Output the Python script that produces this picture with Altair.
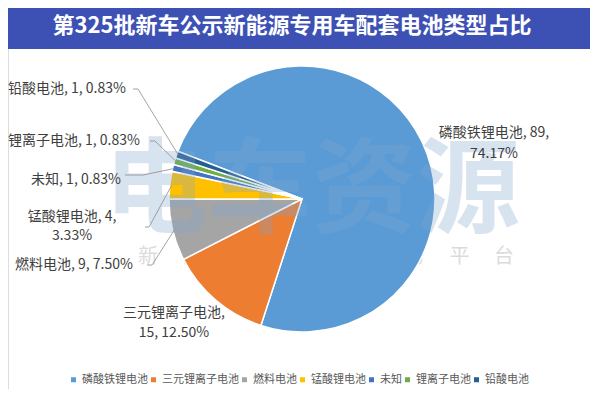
import math
import altair as alt
import pandas as pd

# ---- data ----
categories = ["磷酸铁锂电池", "三元锂离子电池", "燃料电池", "锰酸锂电池", "未知", "锂离子电池", "铅酸电池"]
counts = [89, 15, 9, 4, 1, 1, 1]
percents = ["74.17%", "12.50%", "7.50%", "3.33%", "0.83%", "0.83%", "0.83%"]
colors = ["#5B9BD5", "#ED7D31", "#A5A5A5", "#FFC000", "#4472C4", "#70AD47", "#255E91"]
title_text = "第325批新车公示新能源专用车配套电池类型占比"

# ---- layout (chart pixel coords) ----
W, H = 582, 381
CX, CY, R = 294, 191, 133
START = math.radians(-69)
FONT = "Noto Sans CJK SC"

pie_df = pd.DataFrame({"cat": categories, "n": counts, "idx": list(range(len(categories)))})

# label layout: (text, x, y, align)
label_rows = [
    ("磷酸铁锂电池, 89,", 486, 125, "center"),
    ("74.17%", 486, 146, "center"),
    ("三元锂离子电池,", 166, 305, "center"),
    ("15, 12.50%", 166, 325, "center"),
    ("燃料电池, 9, 7.50%", 7, 257, "left"),
    ("锰酸锂电池, 4,", 64, 209, "center"),
    ("3.33%", 64, 228, "center"),
    ("未知, 1, 0.83%", 113, 172, "right"),
    ("锂离子电池, 1, 0.83%", 0, 133, "left"),
    ("铅酸电池, 1, 0.83%", 0, 81, "left"),
]
lab_df = pd.DataFrame(label_rows, columns=["t", "x", "y", "a"])

# leader lines: start points near labels, end at slice middle on the rim
leader_starts = {
    "燃料电池": [(139, 257), (144, 257)],
    "锰酸锂电池": [(137, 219), (141, 219)],
    "未知": [(117, 167), (135, 167)],
    "锂离子电池": [(142, 133), (147, 133)],
    "铅酸电池": [(125, 81), (130, 81)],
}
total = sum(counts)
cum = 0
mids = {}
for c, v in zip(categories, counts):
    mids[c] = START + 2 * math.pi * (cum + v / 2) / total
    cum += v
rows = []
for c, pts in leader_starts.items():
    a = mids[c]
    ex, ey = CX + (R - 2) * math.sin(a), CY - (R - 2) * math.cos(a)
    allp = pts + [(ex, ey)]
    for k, (px, py) in enumerate(allp):
        rows.append({"id": c, "k": k, "x": px, "y": py})
lead_df = pd.DataFrame(rows)

base_px = dict(scale=None, axis=None)

bar = alt.Chart(pd.DataFrame({"a": [0]})).mark_rect(color="#3D50B4").encode(
    x=alt.value(0), x2=alt.value(W), y=alt.value(0), y2=alt.value(41)
)
title = alt.Chart(pd.DataFrame({"t": [title_text]})).mark_text(
    font=FONT, fontSize=22, fontWeight="bold", color="white", align="center", baseline="middle"
).encode(text="t:N", x=alt.value(284), y=alt.value(18))

wm_sub = alt.Chart(pd.DataFrame({"t": ["\u3000 ".join("新能源汽车服务平台")]})).mark_text(
    font=FONT, fontSize=20, color="#9A9A9A", opacity=0.35, align="center", baseline="middle"
).encode(text="t:N", x=alt.value(318), y=alt.value(249))

pie = alt.Chart(pie_df).mark_arc(radius=R, stroke="white", strokeWidth=1.5).encode(
    theta=alt.Theta("n:Q", stack=True, scale=alt.Scale(range=[START, START + 2 * math.pi])),
    color=alt.Color(
        "cat:N",
        sort=categories,
        scale=alt.Scale(domain=categories, range=colors),
        legend=alt.Legend(
            orient="none", legendX=60, legendY=366, direction="horizontal", title=None,
            symbolType="square", symbolSize=25, symbolStrokeWidth=0, labelFontSize=11,
            labelColor="#595959", labelFont=FONT, columnPadding=0, labelLimit=0, padding=0,
            labelOffset=3,
        ),
    ),
    order=alt.Order("idx:Q"),
    x=alt.value(CX), y=alt.value(CY),
)

wm = alt.Chart(pd.DataFrame({"t": ["电车资源"]})).mark_text(
    font=FONT, fontSize=104, fontWeight="bold", color="#7FA6D1", opacity=0.3, align="center", baseline="middle"
).encode(text="t:N", x=alt.value(304), y=alt.value(186))

leaders = alt.Chart(lead_df).mark_line(color="#8C8C8C", strokeWidth=0.8).encode(
    x=alt.X("x:Q", **base_px), y=alt.Y("y:Q", **base_px), detail="id:N", order="k:Q"
)

labels = []
for al in ["left", "center", "right"]:
    sub = lab_df[lab_df["a"] == al]
    labels.append(
        alt.Chart(sub).mark_text(font=FONT, fontSize=14, color="#404040", align=al, baseline="middle").encode(
            x=alt.X("x:Q", **base_px), y=alt.Y("y:Q", **base_px), text="t:N"
        )
    )

chart = alt.layer(bar, title, wm_sub, pie, wm, leaders, *labels).properties(
    width=W, height=H, padding=0, autosize=alt.AutoSizeParams(type="none")
).configure_view(stroke=None).configure(background="white")

chart.save("out.html", embed_options={"renderer": "svg", "actions": False})
